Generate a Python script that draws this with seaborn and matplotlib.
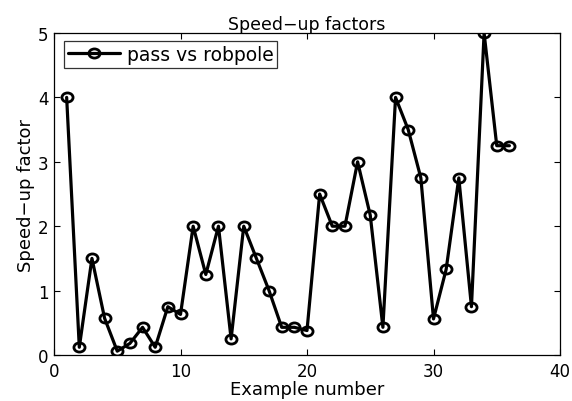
import matplotlib
matplotlib.use("Agg")
import matplotlib.pyplot as plt
from matplotlib.path import Path
from matplotlib.transforms import Affine2D
import seaborn as sns
import pandas as pd

example = list(range(1, 37))
speedup = [4.0, 0.12, 1.5, 0.57, 0.06, 0.18, 0.43, 0.12, 0.75, 0.63,
           2.0, 1.25, 2.0, 0.25, 2.0, 1.5, 1.0, 0.43, 0.43, 0.38,
           2.5, 2.0, 2.0, 3.0, 2.17, 0.43, 4.0, 3.5, 2.75, 0.56,
           1.33, 2.75, 0.75, 5.0, 3.25, 3.25]
series_name = "pass vs robpole"
xticks = [0, 10, 20, 30, 40]
yticks = [0, 1, 2, 3, 4, 5]

sns.set_style("ticks")
plt.rcParams['font.family'] = ['DejaVu Sans']
plt.rcParams['text.color'] = 'black'
plt.rcParams['axes.labelcolor'] = 'black'
plt.rcParams['xtick.color'] = 'black'
plt.rcParams['ytick.color'] = 'black'
plt.rcParams['axes.edgecolor'] = 'black'

df = pd.DataFrame({"Example number": example, "Speed-up factor": speedup,
                   "series": series_name})

ellipse = Path.unit_circle().transformed(Affine2D().scale(1.22, 1.0))

L, R, T, B = 54, 560, 34, 356
fig = plt.figure(figsize=(5.72, 4.02), dpi=100)
ax = fig.add_axes([L/572, 1 - B/402, (R-L)/572, (B-T)/402])
sns.lineplot(data=df, x="Example number", y="Speed-up factor", hue="series",
             palette=["black"], marker=ellipse, markersize=8, markerfacecolor="none",
             markeredgecolor="black", markeredgewidth=2, linewidth=2.3, ax=ax,
             sort=False)
ax.set_xlim(0, 40)
ax.set_ylim(0, 5)
ax.set_xticks(xticks)
ax.set_yticks(yticks)
ax.tick_params(direction="in", top=True, right=True, labelsize=12, length=4,
               width=0.8, colors="black")
ax.tick_params(axis="x", pad=5)
ax.tick_params(axis="y", pad=4)
for s in ax.spines.values():
    s.set_linewidth(0.9)
    s.set_color("black")
    s.set_visible(True)
ax.set_xlabel("Example number", fontsize=13, labelpad=0, color="black")
ax.set_ylabel("Speed\u2212up factor", fontsize=13, labelpad=2, color="black")
ax.set_title("Speed\u2212up factors", fontsize=12.5, pad=3, color="black")
leg = ax.legend(loc="upper left", fontsize=13.5, frameon=True, fancybox=False,
                edgecolor="black", borderpad=0.2, handlelength=2.8,
                handletextpad=0.35, borderaxespad=0,
                bbox_to_anchor=(10/(R-L), 1 - 8/(B-T)))
leg.get_frame().set_linewidth(0.9)
for t in leg.get_texts():
    t.set_color("black")
fig.savefig("out.png", dpi=100)
